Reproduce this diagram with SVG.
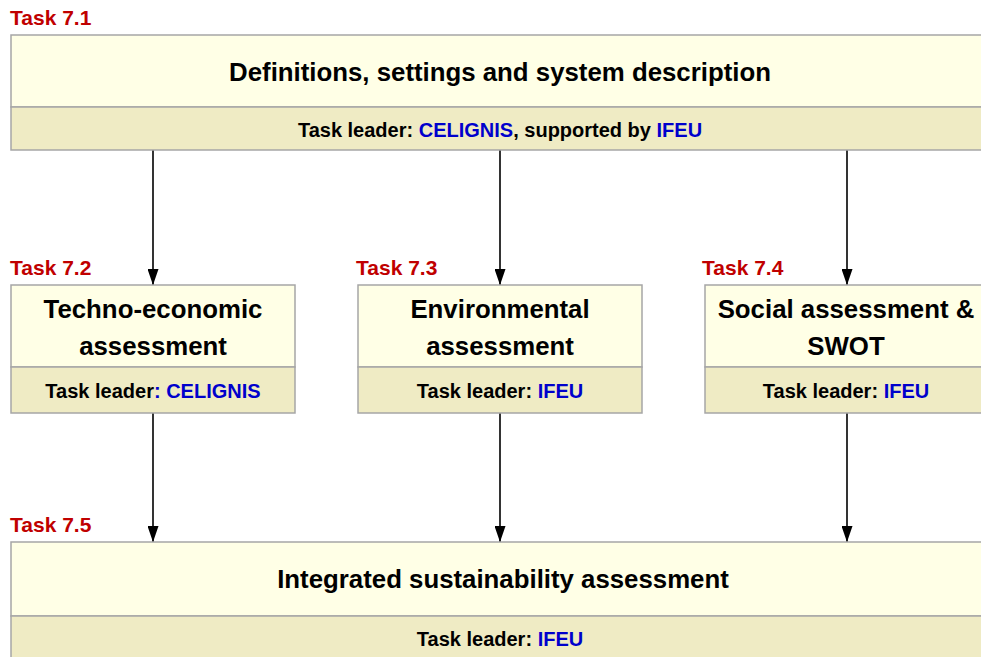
<svg xmlns="http://www.w3.org/2000/svg" width="981" height="657" viewBox="0 0 981 657">
<style>
text{font-family:"Liberation Sans",Arial,sans-serif;font-weight:bold}
.tag{fill:#C00000;font-size:21px}
.hd{fill:#FFFFE6;stroke:#A6A6A6;stroke-width:1.5}
.ft{fill:#EFEBC4;stroke:#A6A6A6;stroke-width:1.5}
.t1{fill:#000;font-size:25.8px;text-anchor:middle}
.t2{fill:#000;font-size:20px;text-anchor:middle}
.b{fill:#0000CC}
.c{stroke:#000;stroke-width:1.6;fill:none;marker-end:url(#ah)}
</style>
<defs>
<marker id="ah" markerWidth="16" markerHeight="11" refX="16" refY="5.5" orient="auto" markerUnits="userSpaceOnUse" viewBox="0 0 16 11">
<path d="M0,0 L16,5.5 L0,11 Z" fill="#000"/>
</marker>
</defs>
<rect width="981" height="657" fill="#fff"/>
<g id="connectors">
<line class="c" x1="153" y1="150" x2="153" y2="285"/>
<line class="c" x1="500" y1="150" x2="500" y2="285"/>
<line class="c" x1="847" y1="150" x2="847" y2="285"/>
<line class="c" x1="153" y1="413" x2="153" y2="542"/>
<line class="c" x1="500" y1="413" x2="500" y2="542"/>
<line class="c" x1="847" y1="413" x2="847" y2="542"/>
</g>
<g id="task71">
<text class="tag" x="10" y="25">Task 7.1</text>
<rect class="hd" x="11" y="35" width="980" height="72"/>
<rect class="ft" x="11" y="107" width="980" height="43"/>
<text class="t1" x="500" y="81">Definitions, settings and system description</text>
<text class="t2" x="500" y="137">Task leader: <tspan class="b">CELIGNIS</tspan>, supported by <tspan class="b">IFEU</tspan></text>
</g>
<g id="task72">
<text class="tag" x="10" y="275">Task 7.2</text>
<rect class="hd" x="11" y="285" width="284" height="82"/>
<rect class="ft" x="11" y="367" width="284" height="46"/>
<text class="t1" x="153" y="318">Techno-economic</text>
<text class="t1" x="153" y="355">assessment</text>
<text class="t2" x="153" y="398">Task leader<tspan class="b">: CELIGNIS</tspan></text>
</g>
<g id="task73">
<text class="tag" x="356" y="275">Task 7.3</text>
<rect class="hd" x="358" y="285" width="284" height="82"/>
<rect class="ft" x="358" y="367" width="284" height="46"/>
<text class="t1" x="500" y="318">Environmental</text>
<text class="t1" x="500" y="355">assessment</text>
<text class="t2" x="500" y="398">Task leader: <tspan class="b">IFEU</tspan></text>
</g>
<g id="task74">
<text class="tag" x="702" y="275">Task 7.4</text>
<rect class="hd" x="705" y="285" width="286" height="82"/>
<rect class="ft" x="705" y="367" width="286" height="46"/>
<text class="t1" x="846" y="318">Social assessment &amp;</text>
<text class="t1" x="846" y="355">SWOT</text>
<text class="t2" x="846" y="398">Task leader: <tspan class="b">IFEU</tspan></text>
</g>
<g id="task75">
<text class="tag" x="10" y="532">Task 7.5</text>
<rect class="hd" x="11" y="542" width="980" height="74"/>
<rect class="ft" x="11" y="616" width="980" height="50"/>
<text class="t1" x="503" y="588">Integrated sustainability assessment</text>
<text class="t2" x="500" y="646">Task leader: <tspan class="b">IFEU</tspan></text>
</g>
</svg>
